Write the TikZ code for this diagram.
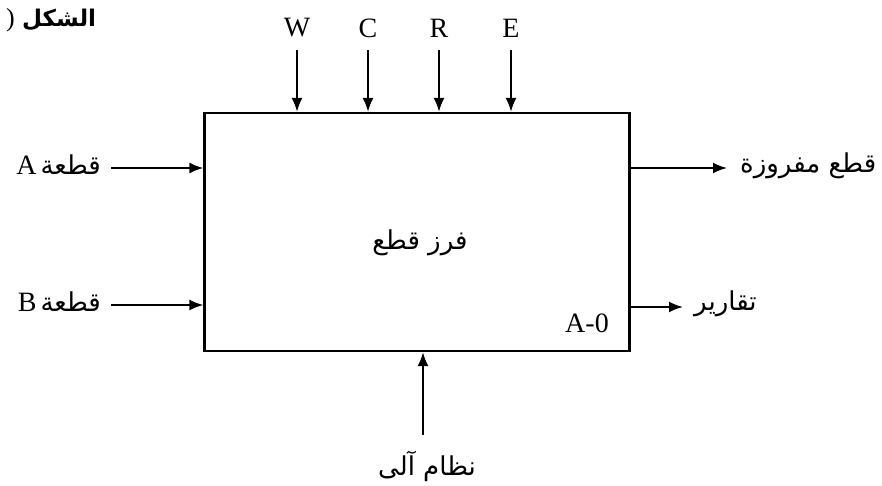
\documentclass[tikz,border=0pt]{standalone}
\usepackage{fontspec}
\setmainfont{Liberation Serif}
\newfontfamily\arabicfont[Script=Arabic]{DejaVu Sans}
\TeXXeTstate=1
\usetikzlibrary{arrows.meta}
\begin{document}
\begin{tikzpicture}[x=1pt,y=-1pt,
  lat/.style={inner sep=0pt, font=\fontsize{28}{30}\selectfont},
  ar/.style={inner sep=0pt, font=\arabicfont\fontsize{26}{30}\selectfont},
  flow/.style={line width=2pt, -{Latex[length=14pt,width=11pt]}}]
\useasboundingbox (0,0) rectangle (882,486);
\node[draw, line width=2.2pt, minimum width=425pt, minimum height=238pt, inner sep=0pt] (box) at (417,232) {};
% title
\node[anchor=west, inner sep=0pt, font=\arabicfont\bfseries\fontsize{23}{26}\selectfont] (title) at (22,20) {\beginR الشكل\endR};
\node[anchor=east, inner sep=0pt, font=\fontsize{26}{28}\selectfont] (paren) at ([xshift=-7pt]title.west) {)};
% top controls
\node[lat] (w) at (297,28) {W};
\node[lat] (c) at (368,28) {C};
\node[lat] (r) at (439,28) {R};
\node[lat] (e) at (511,28) {E};
\foreach \n in {w,c,r,e}{
  \coordinate (\n s) at ([yshift=-22pt]\n.center);
  \draw[flow] (\n s) -- (\n s |- box.north);
}
% inputs
\node[anchor=east, inner sep=0pt] (ina) at (101,165) {{\fontsize{28}{30}\selectfont A}\kern4pt{\arabicfont\fontsize{26}{30}\selectfont\beginR قطعة\endR}};
\node[anchor=east, inner sep=0pt] (inb) at (101,302) {{\fontsize{28}{30}\selectfont B}\kern4pt{\arabicfont\fontsize{26}{30}\selectfont\beginR قطعة\endR}};
\coordinate (as) at (111,168);
\coordinate (bs) at (111,305);
\draw[flow] (as) -- (as -| box.west);
\draw[flow] (bs) -- (bs -| box.west);
% outputs
\coordinate (oa) at (727,168);
\coordinate (ob) at (683,307);
\draw[flow] (oa -| box.east) -- (oa);
\draw[flow] (ob -| box.east) -- (ob);
\node[ar, anchor=west] (outa) at (740,166) {\beginR قطع مفروزة\endR};
\node[ar, anchor=west] (outb) at (694,304) {\beginR تقارير\endR};
% mechanism
\node[ar] (mech) at (427,466) {\beginR نظام آلى\endR};
\coordinate (ms) at (423,435);
\draw[flow] (ms) -- (ms |- box.south);
% inside
\node[ar] (func) at (420,243) {\beginR فرز قطع\endR};
\node[lat] (id) at (587,323) {A-0};
\end{tikzpicture}
\end{document}
